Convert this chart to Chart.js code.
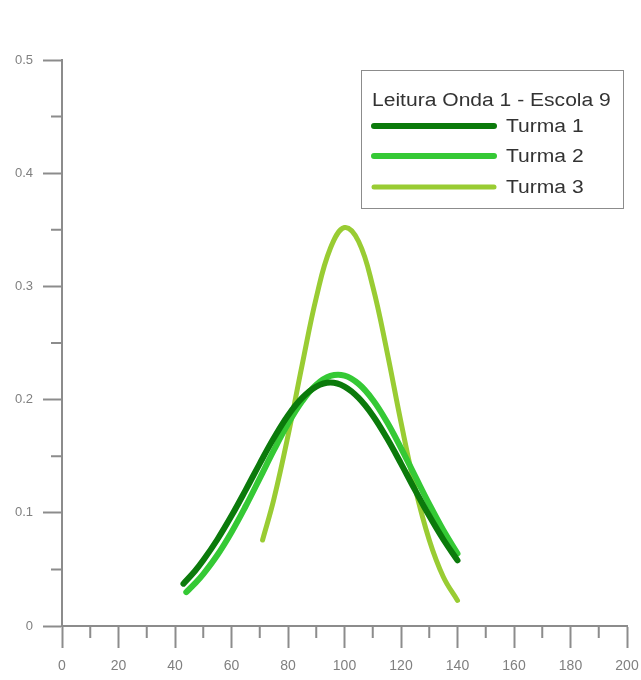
<!DOCTYPE html>
<html>
<head>
<meta charset="utf-8">
<script src="https://cdn.jsdelivr.net/npm/chart.js@4/dist/chart.umd.min.js"></script>
<style>
  html, body { margin: 0; padding: 0; background: #ffffff; }
  canvas { display: block; }
</style>
</head>
<body>
<canvas id="c" width="641" height="680"></canvas>
<script>
// Reading scores, wave 1, school 9 — fitted curves per class
const legendTitle = 'Leitura Onda 1 - Escola 9';
const seriesNames = ['Turma 1', 'Turma 2', 'Turma 3'];

const turma1X = [43, 47, 50, 55, 60, 65, 70, 75, 80, 85, 90, 95, 100, 105, 110, 115, 120, 125, 130, 135, 140];
const turma1Y = [0.0374, 0.0484, 0.058, 0.0764, 0.0973, 0.120, 0.1435, 0.166, 0.186, 0.2015, 0.2115, 0.215, 0.2115, 0.2015, 0.186, 0.166, 0.1435, 0.120, 0.0973, 0.0764, 0.058];

const turma2X = [44, 47, 50, 55, 60, 65, 70, 75, 80, 85, 90, 95, 100, 105, 110, 115, 120, 125, 130, 135, 140];
const turma2Y = [0.030, 0.0374, 0.0458, 0.0627, 0.0829, 0.1058, 0.1304, 0.1553, 0.1786, 0.1985, 0.2131, 0.2209, 0.2212, 0.2139, 0.1999, 0.1804, 0.1572, 0.1324, 0.1077, 0.0846, 0.064];

const turma3X = [71, 75, 80, 85, 90, 95, 100, 105, 110, 115, 120, 125, 130, 135, 140];
const turma3Y = [0.076, 0.112, 0.168, 0.2306, 0.290, 0.3337, 0.352, 0.3397, 0.300, 0.243, 0.180, 0.122, 0.076, 0.0433, 0.0226];

const xTicks = [0, 20, 40, 60, 80, 100, 120, 140, 160, 180, 200];
const yTicks = [0, 0.1, 0.2, 0.3, 0.4, 0.5];

const colors = ['#0b7a0b', '#35c935', '#99cc33'];
const widths = [6, 6, 5];

function toPoints(xs, ys) {
  return xs.map((x, i) => ({ x: x, y: ys[i] }));
}

const AXIS_COLOR = '#8c8c8c';

// Minor tick marks between the labelled ones
const minorTicks = {
  id: 'minorTicks',
  afterDraw(chart) {
    const ctx = chart.ctx;
    const xs = chart.scales.x, ys = chart.scales.y;
    const area = chart.chartArea;
    ctx.save();
    ctx.strokeStyle = AXIS_COLOR;
    ctx.lineWidth = 2;
    ctx.beginPath();
    for (let i = 0; i < xTicks.length - 1; i++) {
      const px = xs.getPixelForValue((xTicks[i] + xTicks[i + 1]) / 2);
      ctx.moveTo(px, area.bottom);
      ctx.lineTo(px, area.bottom + 12);
    }
    for (let i = 0; i < yTicks.length - 1; i++) {
      const py = ys.getPixelForValue((yTicks[i] + yTicks[i + 1]) / 2);
      ctx.moveTo(area.left, py);
      ctx.lineTo(area.left - 11, py);
    }
    ctx.stroke();
    ctx.restore();
  }
};

// Boxed legend with a title, placed in the upper right of the plot
const boxLegend = {
  id: 'boxLegend',
  afterDraw(chart) {
    const ctx = chart.ctx;
    const left = 361, top = 70, right = 623, bottom = 208;
    ctx.save();
    ctx.fillStyle = '#ffffff';
    ctx.fillRect(left, top, right - left, bottom - top);
    ctx.strokeStyle = '#8c8c8c';
    ctx.lineWidth = 1;
    ctx.strokeRect(left + 0.5, top + 0.5, right - left, bottom - top);

    ctx.fillStyle = '#333333';
    ctx.font = '18px "Liberation Sans", Arial, sans-serif';
    ctx.textBaseline = 'alphabetic';
    const sx = 1.17;
    const drawText = (txt, x, y) => {
      ctx.save();
      ctx.translate(x, y);
      ctx.scale(sx, 1);
      ctx.fillText(txt, 0, 0);
      ctx.restore();
    };
    drawText(legendTitle, 372, 106);

    const rows = [126, 156, 187];
    chart.data.datasets.forEach((ds, i) => {
      ctx.strokeStyle = ds.borderColor;
      ctx.lineWidth = ds.borderWidth;
      ctx.lineCap = 'round';
      ctx.beginPath();
      ctx.moveTo(374, rows[i]);
      ctx.lineTo(494, rows[i]);
      ctx.stroke();
      ctx.fillStyle = '#333333';
      drawText(ds.label, 506, rows[i] + 6);
    });
    ctx.restore();
  }
};

const datasets = [
  toPoints(turma1X, turma1Y),
  toPoints(turma2X, turma2Y),
  toPoints(turma3X, turma3Y)
].map((pts, i) => ({
  label: seriesNames[i],
  data: pts,
  showLine: true,
  borderColor: colors[i],
  backgroundColor: colors[i],
  borderWidth: widths[i],
  borderCapStyle: 'round',
  borderJoinStyle: 'round',
  pointRadius: 0,
  pointHoverRadius: 0,
  tension: 0.4,
  fill: false
}));

new Chart(document.getElementById('c'), {
  type: 'scatter',
  data: { datasets: datasets },
  options: {
    responsive: false,
    animation: false,
    events: [],
    layout: { padding: { top: 60, right: 14, left: 0, bottom: 0 } },
    plugins: {
      legend: { display: false },
      tooltip: { enabled: false },
      title: { display: false }
    },
    scales: {
      x: {
        type: 'linear',
        min: 0,
        max: 200,
        afterFit(scale) {
          scale.height = 54;
          scale.paddingLeft = 0;
          scale.paddingRight = 0;
        },
        afterBuildTicks(scale) { scale.ticks = xTicks.map(v => ({ value: v })); },
        ticks: {
          color: '#808080',
          font: { family: '"Liberation Sans", Arial, sans-serif', size: 14 },
          padding: 10,
          maxRotation: 0,
          autoSkip: false
        },
        grid: {
          display: true,
          drawOnChartArea: false,
          drawTicks: true,
          tickLength: 22,
          tickWidth: 2,
          tickColor: AXIS_COLOR
        },
        border: { display: true, color: AXIS_COLOR, width: 2 }
      },
      y: {
        type: 'linear',
        min: 0,
        max: 0.5,
        afterFit(scale) {
          scale.width = 62;
          scale.paddingTop = 0;
          scale.paddingBottom = 0;
        },
        afterBuildTicks(scale) { scale.ticks = yTicks.map(v => ({ value: v })); },
        ticks: {
          color: '#808080',
          font: { family: '"Liberation Sans", Arial, sans-serif', size: 13 },
          padding: 10,
          autoSkip: false,
          callback: v => String(Math.round(v * 10) / 10)
        },
        grid: {
          display: true,
          drawOnChartArea: false,
          drawTicks: true,
          tickLength: 19,
          tickWidth: 2,
          tickColor: AXIS_COLOR
        },
        border: { display: true, color: AXIS_COLOR, width: 2 }
      }
    }
  },
  plugins: [minorTicks, boxLegend]
});
</script>
</body>
</html>
